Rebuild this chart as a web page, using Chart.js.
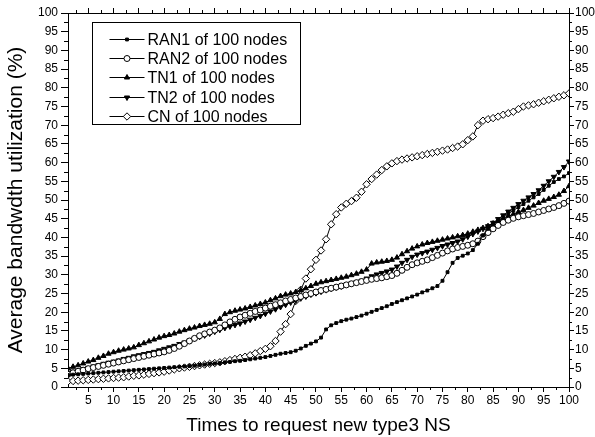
<!DOCTYPE html>
<html>
<head>
<meta charset="utf-8">
<script src="https://cdn.jsdelivr.net/npm/chart.js@4.4.0/dist/chart.umd.min.js"></script>
<style>
html, body { margin: 0; padding: 0; background: #fff; }
#wrap { width: 595px; height: 437px; }
</style>
</head>
<body>
<div id="wrap"><canvas id="bwChart" width="595" height="437"></canvas></div>
<script>
// request index (x axis)
const times = [1,2,3,4,5,6,7,8,9,10,11,12,13,14,15,16,17,18,19,20,
  21,22,23,24,25,26,27,28,29,30,31,32,33,34,35,36,37,38,39,40,
  41,42,43,44,45,46,47,48,49,50,51,52,53,54,55,56,57,58,59,60,
  61,62,63,64,65,66,67,68,69,70,71,72,73,74,75,76,77,78,79,80,
  81,82,83,84,85,86,87,88,89,90,91,92,93,94,95,96,97,98,99,100];

// average bandwidth utilization (%)
const ran1 = [3.2,3.3,3.4,3.5,3.6,3.7,3.8,3.9,4.0,4.1,
  4.2,4.3,4.4,4.5,4.6,4.7,4.8,4.9,5.0,5.1,
  5.2,5.3,5.4,5.5,5.6,5.7,5.9,6.0,6.2,6.3,
  6.4,6.6,6.7,6.9,7.0,7.2,7.4,7.6,7.8,8.0,
  8.3,8.6,8.9,9.1,9.3,9.7,10.3,11.0,11.6,12.2,
  13.2,15.4,16.5,17.1,17.6,18.0,18.3,18.7,19.1,19.6,
  20.1,20.6,21.1,21.6,22.2,22.7,23.2,23.7,24.2,24.7,
  25.3,25.8,26.4,27.0,28.4,30.7,33.2,34.5,35.1,35.7,
  36.6,38.3,40.5,42.3,43.5,44.4,45.3,46.3,47.2,48.1,
  48.9,49.8,50.7,51.6,52.7,53.8,54.8,55.6,56.3,57.2];

const ran2 = [3.4,3.8,4.2,4.5,4.9,5.2,5.5,5.8,6.1,6.4,
  6.7,7.0,7.3,7.6,7.9,8.2,8.5,8.8,9.1,9.4,
  9.8,10.3,10.9,11.6,12.3,13.0,13.7,14.2,14.7,15.2,
  15.8,16.6,17.4,18.1,18.7,19.2,19.7,20.2,20.6,21.1,
  21.6,22.0,22.5,23.0,23.4,23.8,24.2,24.6,25.0,25.4,
  25.8,26.1,26.4,26.7,27.0,27.3,27.6,27.9,28.2,28.5,
  28.8,29.0,29.2,29.5,29.8,30.4,31.2,32.0,32.7,33.2,
  33.6,34.0,34.6,35.2,35.8,36.4,36.9,37.3,37.6,37.9,
  38.3,39.0,40.2,41.3,42.3,43.2,44.0,44.6,45.1,45.5,
  45.8,46.1,46.4,46.8,47.2,47.6,48.0,48.5,49.1,49.7];

const tn1 = [5.0,5.4,5.8,6.3,6.8,7.2,7.8,8.3,8.9,9.3,
  9.7,10.0,10.3,10.6,11.2,11.7,12.2,12.7,13.2,13.6,
  13.9,14.3,14.8,15.2,15.6,15.9,16.3,16.6,16.9,17.3,
  18.2,19.5,20.0,20.4,20.7,21.0,21.4,21.8,22.2,22.6,
  23.2,23.7,24.3,24.7,25.0,25.4,25.9,26.4,27.0,27.6,
  28.0,28.3,28.6,28.9,29.2,29.5,29.9,30.3,30.8,31.4,
  33.0,33.3,33.5,33.7,34.0,34.6,35.5,36.3,37.0,37.6,
  38.1,38.5,38.8,39.1,39.4,39.7,40.0,40.3,40.6,41.0,
  41.5,42.0,42.5,43.0,43.7,44.3,44.9,45.6,46.2,46.8,
  47.3,47.9,48.5,49.2,49.8,50.3,50.8,51.4,52.4,53.7];

const tn2 = [3.8,4.1,4.4,4.8,5.1,5.5,5.8,6.2,6.5,6.8,
  7.1,7.5,7.8,8.2,8.5,8.8,9.1,9.4,9.8,10.2,
  10.6,11.0,11.5,11.9,12.4,12.9,13.4,13.8,14.3,14.8,
  15.3,15.8,16.2,16.6,17.0,17.5,18.0,18.5,19.0,19.6,
  20.2,20.8,21.4,22.0,22.6,23.1,23.7,24.2,24.7,25.1,
  25.5,25.9,26.3,26.6,26.9,27.3,27.7,28.0,28.4,29.0,
  29.6,30.1,30.5,30.9,31.4,32.2,33.2,34.0,34.8,35.4,
  35.8,36.2,36.7,37.2,37.7,38.1,38.5,38.9,39.5,40.2,
  40.9,41.6,42.3,43.0,43.9,44.9,45.9,46.9,47.9,48.9,
  49.8,50.7,51.6,52.6,53.8,55.0,56.2,57.5,58.8,60.3];

const cn = [1.5,1.6,1.7,1.8,1.9,2.0,2.1,2.2,2.3,2.4,
  2.5,2.6,2.8,3.0,3.1,3.3,3.5,3.7,3.9,4.1,
  4.4,4.7,5.0,5.2,5.4,5.6,5.8,6.0,6.2,6.4,
  6.6,6.9,7.2,7.5,7.8,8.1,8.5,9.0,9.6,10.2,
  10.9,12.3,14.8,16.8,19.5,23.0,26.0,29.0,31.5,34.0,
  36.5,39.5,43.5,46.2,48.0,49.0,49.7,50.6,52.2,54.2,
  55.6,56.8,58.0,59.0,59.8,60.4,60.8,61.1,61.4,61.7,
  62.0,62.3,62.6,62.9,63.2,63.5,63.9,64.3,64.9,66.0,
  67.0,70.0,71.2,71.6,71.9,72.3,72.8,73.2,73.6,74.3,
  75.0,75.3,75.6,76.0,76.4,76.8,77.2,77.6,78.0,78.5];

const seriesNames = ['RAN1 of 100 nodes', 'RAN2 of 100 nodes', 'TN1 of 100 nodes', 'TN2 of 100 nodes', 'CN of 100 nodes'];
const xTicks = [5,10,15,20,25,30,35,40,45,50,55,60,65,70,75,80,85,90,95,100];
const minorTicks = [2.5,7.5,12.5,17.5,22.5,27.5,32.5,37.5,42.5,47.5,52.5,57.5,62.5,67.5,72.5,77.5,82.5,87.5,92.5,97.5];

const FONT = "'Liberation Sans', Arial, sans-serif";

function pts(vals) {
  return vals.map((v, i) => ({ x: times[i], y: v }));
}

function makeSet(label, vals, style, radius, fill, rot) {
  return {
    label: label,
    data: pts(vals),
    borderColor: '#000',
    borderWidth: 1,
    pointStyle: style,
    pointRadius: radius,
    pointRotation: rot || 0,
    pointBorderWidth: 1,
    pointBorderColor: '#000',
    pointBackgroundColor: fill,
    tension: 0
  };
}

const datasets = [
  makeSet(seriesNames[0], ran1, 'rect', 2, '#000'),
  makeSet(seriesNames[1], ran2, 'circle', 3, '#fff'),
  makeSet(seriesNames[2], tn1, 'triangle', 3, '#000'),
  makeSet(seriesNames[3], tn2, 'triangle', 3, '#000', 180),
  makeSet(seriesNames[4], cn, 'rectRot', 3.7, '#fff')
];

// minor ticks on all four sides
const minorTickPlugin = {
  id: 'minorTicks',
  afterDraw(chart) {
    const ctx = chart.ctx;
    const a = chart.chartArea;
    const xs = chart.scales.x, ys = chart.scales.y;
    ctx.save();
    ctx.strokeStyle = '#000';
    ctx.lineWidth = 1;
    ctx.beginPath();
    minorTicks.forEach(v => {
      const px = Math.round(xs.getPixelForValue(v)) + 0.5;
      ctx.moveTo(px, a.bottom); ctx.lineTo(px, a.bottom + 3);
      ctx.moveTo(px, a.top); ctx.lineTo(px, a.top - 3);
      const py = Math.round(ys.getPixelForValue(v)) + 0.5;
      ctx.moveTo(a.left, py); ctx.lineTo(a.left - 4, py);
      ctx.moveTo(a.right, py); ctx.lineTo(a.right + 3, py);
    });
    ctx.stroke();
    ctx.restore();
  }
};

// boxed legend in the upper left of the plot
const legendBoxPlugin = {
  id: 'legendBox',
  afterDatasetsDraw(chart) {
    const ctx = chart.ctx;
    const a = chart.chartArea;
    const x0 = Math.round(a.left + 24) + 0.5, y0 = Math.round(a.top + 9) + 0.5;
    const w = 208, h = 102;
    ctx.save();
    ctx.fillStyle = '#fff';
    ctx.fillRect(x0, y0, w, h);
    ctx.strokeStyle = '#000';
    ctx.lineWidth = 1;
    ctx.strokeRect(x0, y0, w, h);
    ctx.font = '16px ' + FONT;
    ctx.textBaseline = 'middle';
    chart.data.datasets.forEach((ds, i) => {
      const cy = Math.round(y0 + 16 + i * 19.4) + 0.5;
      ctx.strokeStyle = '#000';
      ctx.beginPath();
      ctx.moveTo(x0 + 17, cy);
      ctx.lineTo(x0 + 52, cy);
      ctx.stroke();
      ctx.fillStyle = ds.pointBackgroundColor;
      Chart.helpers.drawPoint(ctx, {
        pointStyle: ds.pointStyle,
        radius: ds.pointRadius,
        rotation: ds.pointRotation,
        borderWidth: 1
      }, x0 + 34.5, cy);
      ctx.fillStyle = '#000';
      ctx.fillText(ds.label, x0 + 55, cy + 1);
    });
    ctx.restore();
  }
};

const tickFont = { family: FONT, size: 12 };

const config = {
  type: 'line',
  data: { datasets: datasets },
  options: {
    responsive: false,
    animation: false,
    layout: { padding: 0 },
    plugins: {
      legend: { display: false },
      tooltip: { enabled: false }
    },
    scales: {
      x: {
        type: 'linear',
        position: 'bottom',
        min: 1,
        max: 100,
        afterBuildTicks: s => { s.ticks = xTicks.map(v => ({ value: v })); },
        afterFit: s => { s.height = 50; },
        ticks: { color: '#000', font: tickFont, maxRotation: 0, autoSkip: false, padding: 1 },
        grid: { drawOnChartArea: false, color: '#000', tickLength: 5 },
        border: { color: '#000', width: 1 },
        title: { display: true, text: 'Times to request new type3 NS', color: '#000', font: { family: FONT, size: 19 }, padding: { top: 1, bottom: 0 } }
      },
      x2: {
        type: 'linear',
        position: 'top',
        min: 1,
        max: 100,
        afterBuildTicks: s => { s.ticks = xTicks.map(v => ({ value: v })); },
        afterFit: s => { s.height = 13; },
        ticks: { display: false },
        grid: { drawOnChartArea: false, color: '#000', tickLength: 5 },
        border: { color: '#000', width: 1 }
      },
      y: {
        type: 'linear',
        position: 'left',
        min: 0,
        max: 100,
        afterFit: s => { s.width = 68; },
        ticks: { stepSize: 5, color: '#000', font: tickFont, autoSkip: false, padding: 3 },
        grid: { drawOnChartArea: false, color: '#000', tickLength: 7 },
        border: { color: '#000', width: 1 },
        title: { display: true, text: 'Average bandwdth utilization (%)', color: '#000', font: { family: FONT, size: 21 }, padding: { top: 4, bottom: 0 } }
      },
      y2: {
        type: 'linear',
        position: 'right',
        min: 0,
        max: 100,
        afterFit: s => { s.width = 26; },
        ticks: { stepSize: 5, color: '#000', font: tickFont, autoSkip: false, padding: 1 },
        grid: { drawOnChartArea: false, color: '#000', tickLength: 5 },
        border: { color: '#000', width: 1 }
      }
    }
  },
  plugins: [minorTickPlugin, legendBoxPlugin]
};

new Chart(document.getElementById('bwChart').getContext('2d'), config);
</script>
</body>
</html>
